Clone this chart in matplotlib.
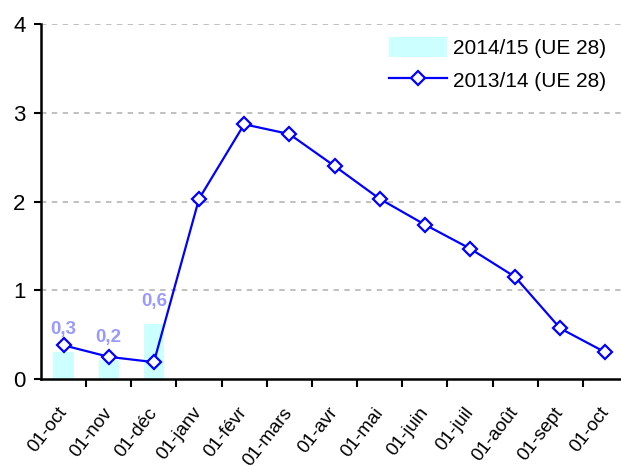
import matplotlib.pyplot as plt
from matplotlib.patches import Patch
from matplotlib.lines import Line2D

plt.rcParams["font.family"] = ["Liberation Sans", "DejaVu Sans"]

months = ["01-oct", "01-nov", "01-déc", "01-janv", "01-févr", "01-mars", "01-avr",
          "01-mai", "01-juin", "01-juil", "01-août", "01-sept", "01-oct"]
season_1415 = [0.30, 0.21, 0.62]
season_1314 = [0.38, 0.25, 0.19, 2.03, 2.87, 2.76, 2.40, 2.03, 1.74, 1.47, 1.15, 0.57, 0.30]
labels_1415 = ["0,3", "0,2", "0,6"]

BAR_COLOR = "#CCFFFF"
LINE_COLOR = "#0000FF"
LABEL_COLOR = "#9999FF"

fig = plt.figure(figsize=(6.21, 4.68), dpi=100)
ax = fig.add_axes([41 / 621, 1 - 379 / 468, 587 / 621, (379 - 24) / 468])

x = list(range(len(months)))
ax.bar(x[:len(season_1415)], season_1415, width=0.45, color=BAR_COLOR, zorder=2)
ax.plot(x, season_1314, color=LINE_COLOR, linewidth=1.6, marker="D", markersize=7,
        markerfacecolor="white", markeredgecolor=LINE_COLOR, markeredgewidth=1.6, zorder=3)

for xi, v, lab in zip(x, season_1415, labels_1415):
    ax.annotate(lab, xy=(xi, v), xytext=(0, 10), textcoords="offset points",
                ha="center", va="bottom", fontsize=13.5, fontweight="bold", color=LABEL_COLOR)

ax.set_xlim(-0.5, len(months) - 0.5)
ax.set_ylim(0, 4)
ax.set_yticks([0, 1, 2, 3, 4])
for yv in [1, 2, 3, 4]:
    ax.axhline(yv, color="#BBBBBB", linestyle=(0, (3, 3)), linewidth=1.3, zorder=1)

# ticks at the category boundaries, labels at the categories
ax.set_xticks([i - 0.5 for i in range(1, len(months) + 1)])
ax.set_xticklabels([])
ax.set_xticks(x, minor=True)
ax.set_xticklabels(months, minor=True, rotation=52, ha="right", va="center",
                   rotation_mode="anchor", fontsize=13.5)
ax.tick_params(axis="x", which="minor", length=0, pad=22)
ax.tick_params(axis="x", which="major", length=6, width=1.5, direction="out")
ax.tick_params(axis="y", length=5, width=1.5, direction="out", labelsize=16, pad=6)

for s in ["top", "right"]:
    ax.spines[s].set_visible(False)
for s in ["left", "bottom"]:
    ax.spines[s].set_linewidth(1.8)
    ax.spines[s].set_zorder(4)

handles = [Patch(facecolor=BAR_COLOR, edgecolor="none"),
           Line2D([], [], color=LINE_COLOR, linewidth=1.6, marker="D", markersize=7,
                  markerfacecolor="white", markeredgecolor=LINE_COLOR, markeredgewidth=1.6)]
fig.legend(handles, ["2014/15 (UE 28)", "2013/14 (UE 28)"], loc="center left",
           bbox_to_anchor=(370 / 621, 1 - 64 / 468), frameon=False, fontsize=15,
           handlelength=2.8, handleheight=1.1, labelspacing=0.55, handletextpad=0.3)

fig.savefig("out.png", dpi=100)
